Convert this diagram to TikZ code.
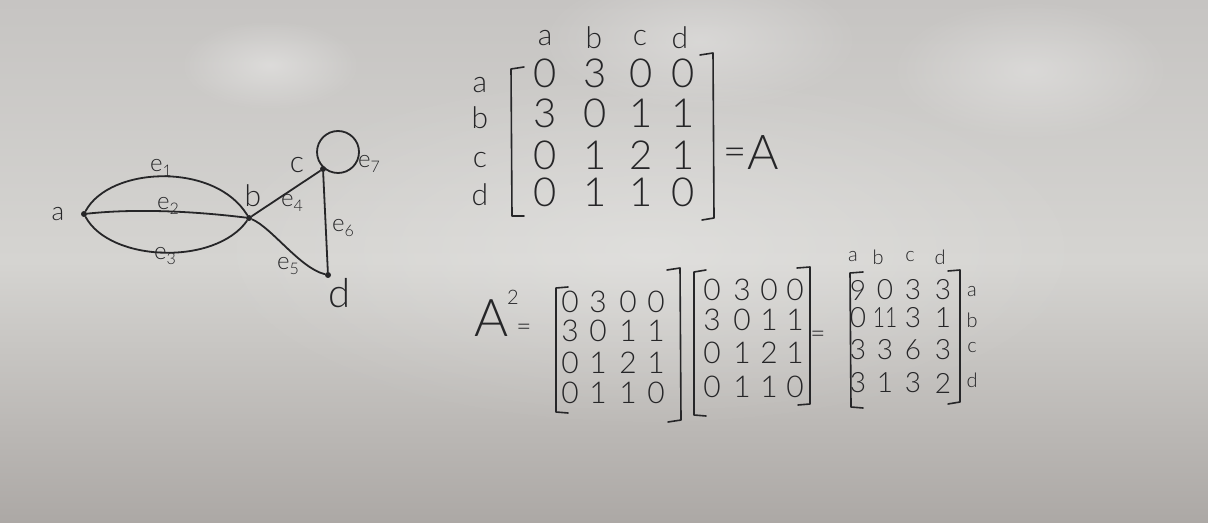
\documentclass[tikz,border=0pt]{standalone}
\usepackage{fontspec}
\IfFontExistsTF{Lato Light}{\setmainfont{Lato Light}}{\setmainfont{Lato}}
\usetikzlibrary{fadings,calc}
\tikzfading[name=softspot, inner color=transparent!0, outer color=transparent!100]
\definecolor{ink}{RGB}{38,38,40}
\definecolor{bgtop}{RGB}{198,196,194}
\definecolor{bgmid}{RGB}{213,212,209}
\definecolor{bgbot}{RGB}{172,168,165}
\tikzset{
  hw/.style={text=ink, inner sep=0pt, anchor=center},
  big/.style={hw, font=\fontsize{20}{20}\selectfont},
  mid/.style={hw, font=\fontsize{15}{15}\selectfont},
  sml/.style={hw, font=\fontsize{13}{13}\selectfont},
  tiny/.style={hw, font=\fontsize{10}{10}\selectfont},
  elab/.style={hw, font=\fontsize{12}{12}\selectfont},
  vtx/.style={circle, fill=ink, inner sep=0pt, minimum size=3pt},
  stroke/.style={draw=ink, line width=0.9pt, line cap=round, line join=round},
  brack/.style={draw=ink, line width=0.8pt, line cap=round, line join=round}
}
\newcommand{\esub}[2]{e\raisebox{-0.35ex}{\fontsize{8}{8}\selectfont #2}}
\begin{document}
\begin{tikzpicture}[x=0.5pt,y=-0.5pt]
\useasboundingbox (0,0) rectangle (1208,523);
% whiteboard background
\shade[top color=bgtop, bottom color=bgbot, middle color=bgmid] (0,0) rectangle (1208,523);
\fill[white, opacity=0.35, path fading=softspot] (270,65) ellipse (90 and 45);
\fill[white, opacity=0.30, path fading=softspot] (700,40) ellipse (160 and 70);
\fill[white, opacity=0.30, path fading=softspot] (1030,70) ellipse (140 and 70);
\fill[white, opacity=0.25, path fading=softspot] (650,250) ellipse (450 and 180);

% ---------------- graph ----------------
\node[vtx] (a) at (84,214) {};
\node[vtx] (b) at (249,218) {};
\node[vtx] (c) at (323,169) {};
\node[vtx] (d) at (328,275) {};
\node[sml] (la) at (58,214) {a};
\node[mid] (lb) at (253,196) {b};
\node[mid] (lc) at (297,165) {c};
\node[big] (ld) at (340,293) {d};

\draw[stroke] (a) .. controls (110,166) and (215,162) .. (b);
\draw[stroke] (a) .. controls (140,208) and (200,212) .. (b);
\draw[stroke] (a) .. controls (110,262) and (215,266) .. (b);
\draw[stroke] (b) -- (c);
\draw[stroke] (b) .. controls (272,228) and (300,268) .. (d);
\draw[stroke] (c) -- (d);
\draw[stroke] ($(c)+(15,-17)$) circle (21);

\node[elab] (e1) at (161,168) {\esub{e}{1}};
\node[elab] (e2) at (168,206) {\esub{e}{2}};
\node[elab] (e3) at (165,256) {\esub{e}{3}};
\node[elab] (e4) at (292,203) {\esub{e}{4}};
\node[elab] (e5) at (288,266) {\esub{e}{5}};
\node[elab] (e6) at (343,228) {\esub{e}{6}};
\node[elab] (e7) at (369,164) {\esub{e}{7}};

% ---------------- matrix A ----------------
\foreach \t/\x in {a/545,b/594,c/640,d/680} \node[mid] at (\x,38) {\t};
\foreach \t/\y in {a/85,b/118,c/160,d/195} \node[mid] at (480,\y) {\t};
\foreach \r/\y in {{0,3,0,0}/73,{3,0,1,1}/113,{0,1,2,1}/155,{0,1,1,0}/192}{
  \foreach \v [count=\i] in \r {
    \pgfmathsetmacro{\xx}{{545,595,641,683}[\i-1]}
    \node[big] at (\xx,\y) {\v};
  }
}
\draw[brack] (524,67) -- (511,69) -- (512,216) -- (524,216);
\draw[brack] (700,55) -- (713,53) -- (714,218) -- (702,220);
\node[big] (eqA) at (735,157) {=};
\node[big, font=\fontsize{24}{24}\selectfont] (A) at (763,153) {A};

% ---------------- A^2 ----------------
\node[big, font=\fontsize{26}{26}\selectfont] (A2) at (492,318) {A};
\node[tiny] at (513,297) {2};
\node[sml] at (524,330) {=};
% matrix 1
\foreach \r/\y in {{0,3,0,0}/302,{3,0,1,1}/331,{0,1,2,1}/363,{0,1,1,0}/393}{
  \foreach \v [count=\i] in \r {
    \pgfmathsetmacro{\xx}{{570,598,628,656}[\i-1]}
    \node[mid] at (\xx,\y) {\v};
  }
}
\draw[brack] (568,287) -- (556,288) -- (556,412) -- (568,413);
\draw[brack] (667,270) -- (680,268) -- (681,420) -- (668,422);
% matrix 2
\foreach \r/\y in {{0,3,0,0}/290,{3,0,1,1}/320,{0,1,2,1}/353,{0,1,1,0}/387}{
  \foreach \v [count=\i] in \r {
    \pgfmathsetmacro{\xx}{{712,742,769,795}[\i-1]}
    \node[mid] at (\xx,\y) {\v};
  }
}
\draw[brack] (706,270) -- (694,272) -- (694,415) -- (706,416);
\draw[brack] (797,268) -- (810,267) -- (810,404) -- (798,405);
\node[sml] at (818,337) {=};
% matrix 3
\foreach \t/\x in {a/853,b/878,c/910,d/940} \node[tiny] at (\x,257) {\t};
\foreach \r/\y in {{9,0,3,3}/290,{0,\scalebox{0.75}[1]{11},3,1}/318,{3,3,6,3}/350,{3,1,3,2}/383}{
  \foreach \v [count=\i] in \r {
    \pgfmathsetmacro{\xx}{{858,885,913,943}[\i-1]}
    \node[hw, font=\fontsize{14}{14}\selectfont] at (\xx,\y) {\v};
  }
}
\draw[brack] (863,272) -- (850,273) -- (851,407) -- (863,408);
\draw[brack] (948,271) -- (960,270) -- (960,402) -- (948,404);
\foreach \t/\y in {a/292,b/320,c/348,d/380} \node[tiny] at (972,\y) {\t};
\end{tikzpicture}
\end{document}
